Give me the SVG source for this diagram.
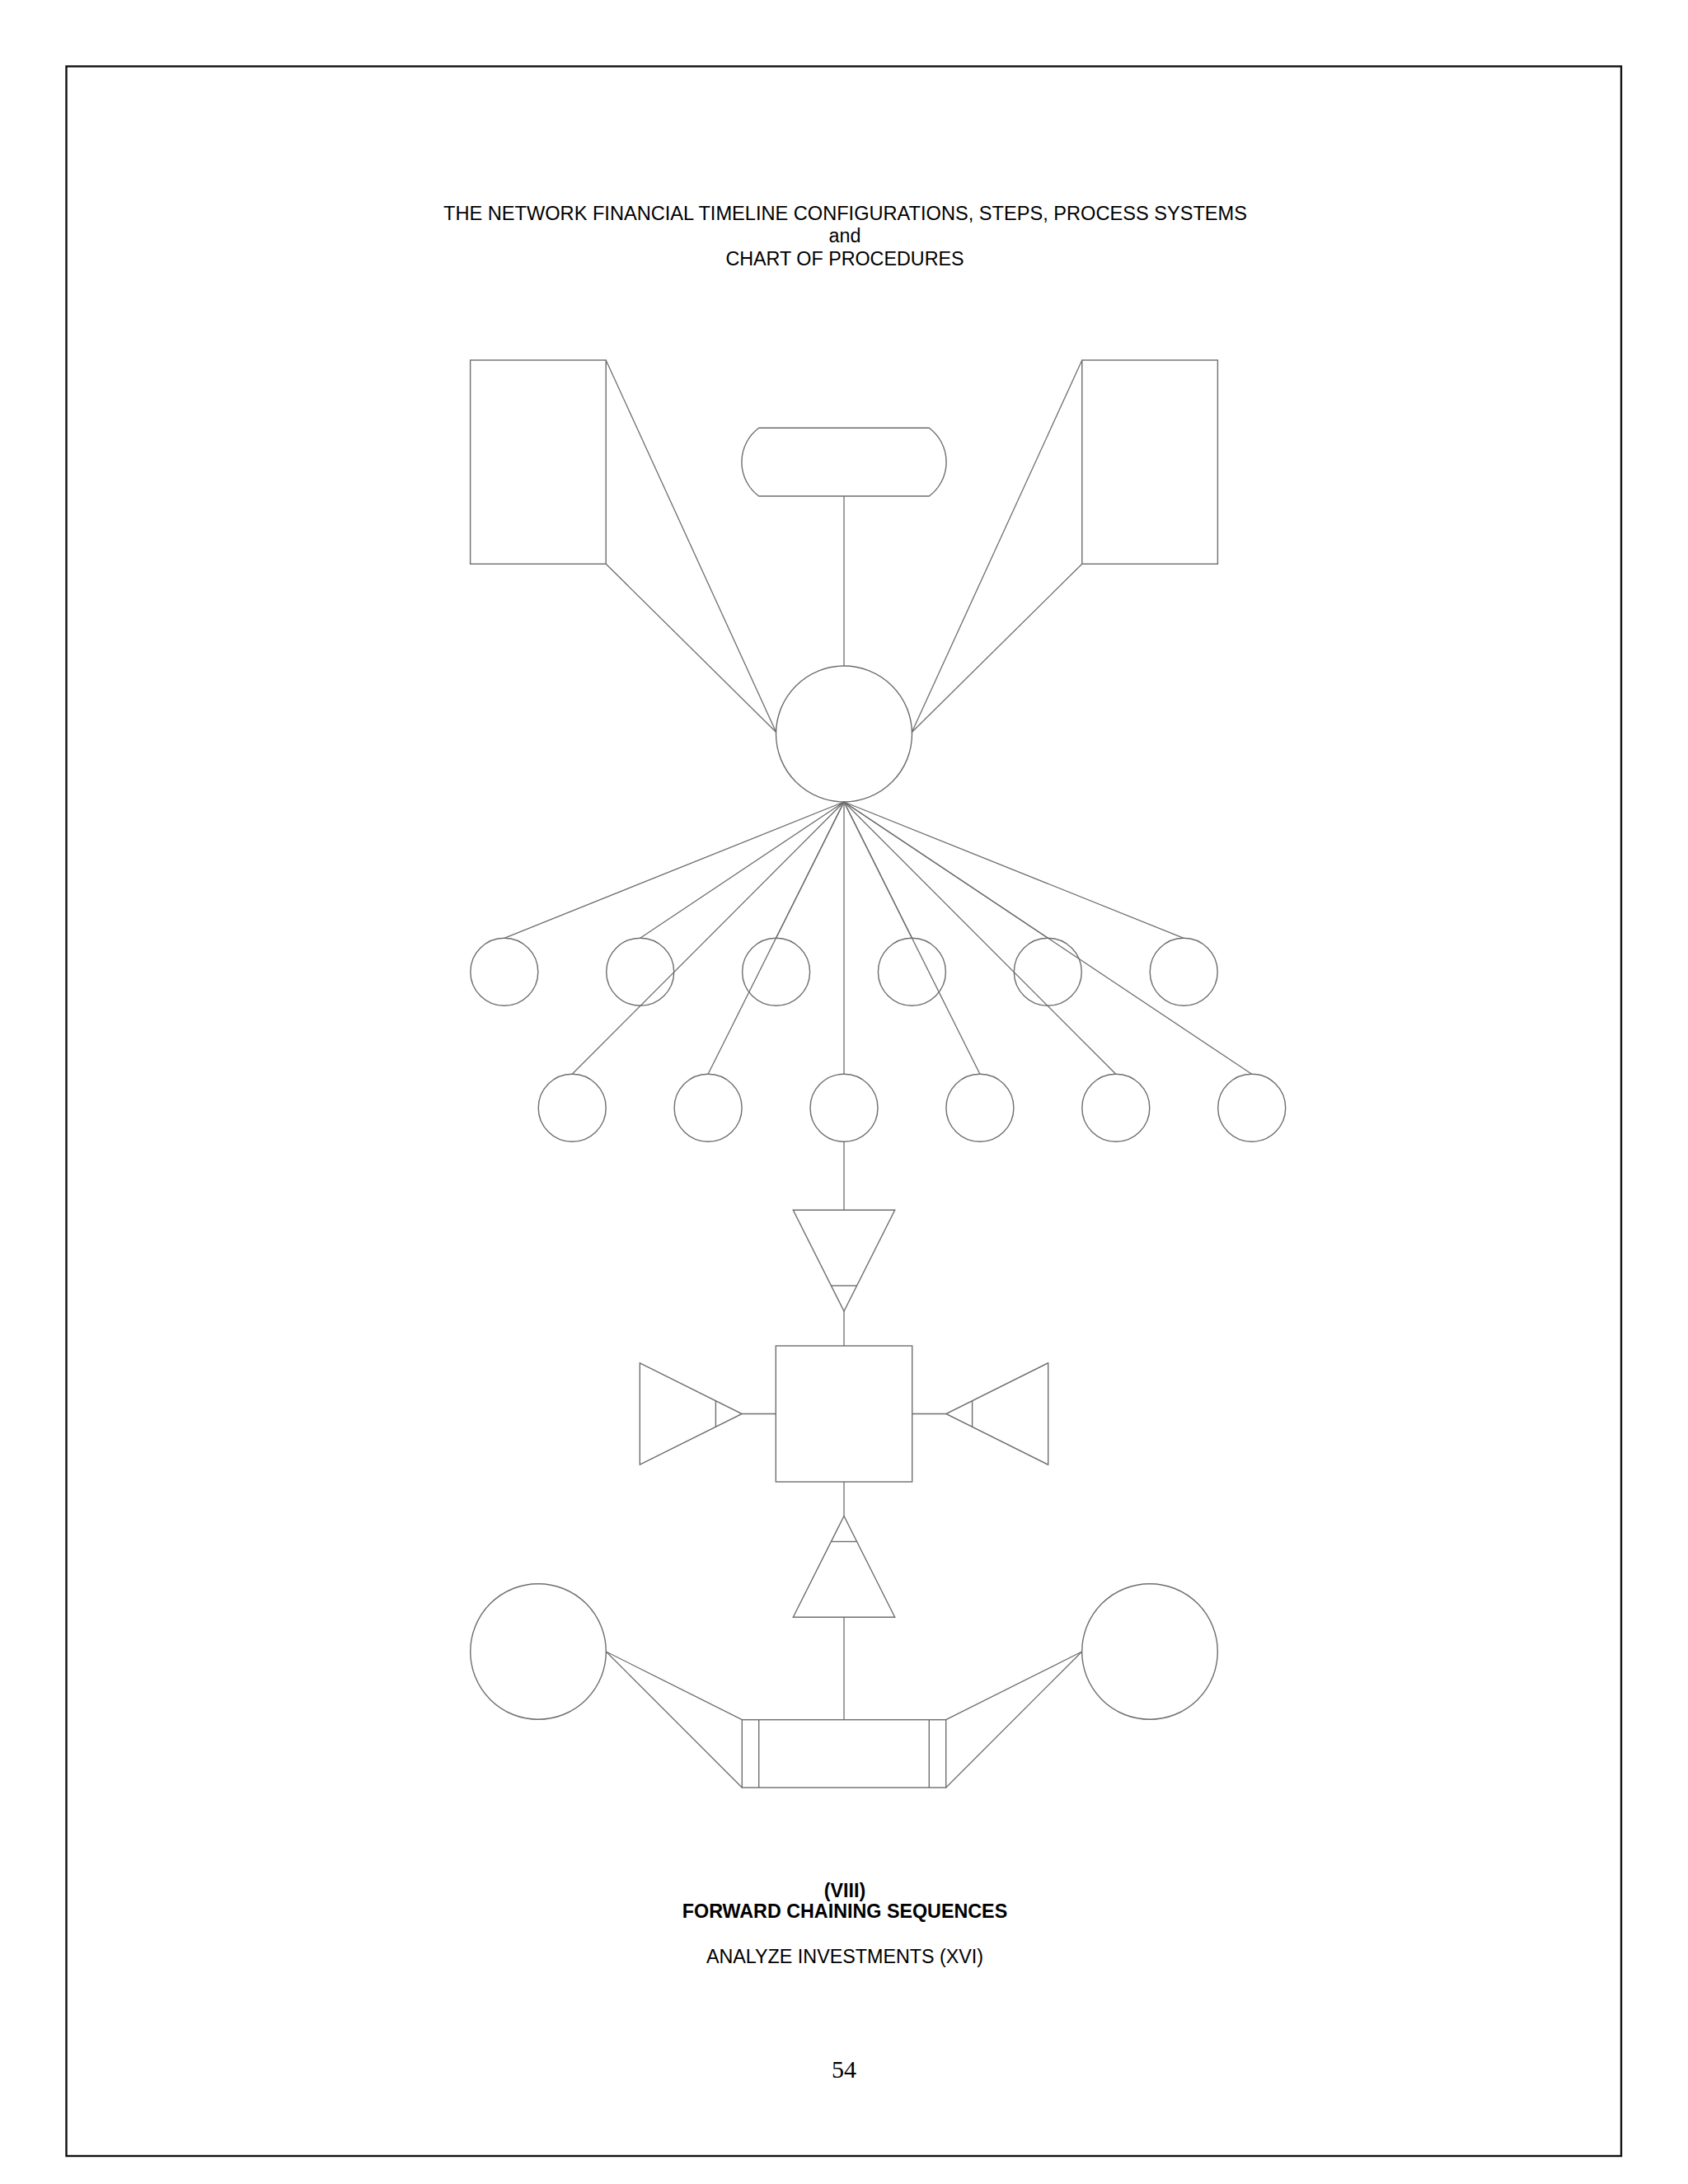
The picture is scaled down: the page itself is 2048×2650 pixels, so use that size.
<svg xmlns="http://www.w3.org/2000/svg" width="2048" height="2650" viewBox="0 0 2048 2650">
<style>
.s{fill:none;stroke:#6e6e6e;stroke-width:1.4}
.c{fill:none;stroke:#6e6e6e;stroke-width:1.3}
.t{font-family:"Liberation Sans",Arial,sans-serif;font-size:23.3px;fill:#000;text-anchor:middle}
.h{font-size:23.6px}
.b{font-weight:bold}
.n{font-family:"Liberation Serif","Times New Roman",serif;font-size:30px;fill:#000;text-anchor:middle}
</style>
<rect x="0" y="0" width="2048" height="2650" fill="#fff"/>
<rect id="page-border" x="80.5" y="80.5" width="1886.5" height="2535.5" fill="none" stroke="#111" stroke-width="2.4"/>
<g id="title">
<text class="t h" x="1025.5" y="266.7">THE NETWORK FINANCIAL TIMELINE CONFIGURATIONS, STEPS, PROCESS SYSTEMS</text>
<text class="t" x="1025" y="294">and</text>
<text class="t" x="1025" y="321.7">CHART OF PROCEDURES</text>
</g>
<g id="connectors">
<line class="c" x1="735.2" y1="437" x2="941.7" y2="888.5"/>
<line class="c" x1="735.2" y1="684.3" x2="941.7" y2="888.5"/>
<line class="c" x1="1312.8" y1="437" x2="1106.3" y2="888.5"/>
<line class="c" x1="1312.8" y1="684.3" x2="1106.3" y2="888.5"/>
<line class="c" x1="1024" y1="602" x2="1024" y2="808"/>
<line class="c" x1="1024" y1="973" x2="611.8" y2="1138.3"/>
<line class="c" x1="1024" y1="973" x2="776.7" y2="1138.3"/>
<line class="c" x1="1024" y1="973" x2="941.6" y2="1138.3"/>
<line class="c" x1="1024" y1="973" x2="1106.4" y2="1138.3"/>
<line class="c" x1="1024" y1="973" x2="1271.3" y2="1138.3"/>
<line class="c" x1="1024" y1="973" x2="1436.2" y2="1138.3"/>
<line class="c" x1="1024" y1="973" x2="694.2" y2="1303.3"/>
<line class="c" x1="1024" y1="973" x2="859.1" y2="1303.3"/>
<line class="c" x1="1024" y1="973" x2="1024" y2="1303.3"/>
<line class="c" x1="1024" y1="973" x2="1188.9" y2="1303.3"/>
<line class="c" x1="1024" y1="973" x2="1353.8" y2="1303.3"/>
<line class="c" x1="1024" y1="973" x2="1518.7" y2="1303.3"/>
<line class="c" x1="1024" y1="1385" x2="1024" y2="1468.3"/>
<line class="c" x1="1024" y1="1591" x2="1024" y2="1633"/>
<line class="c" x1="900.2" y1="1715.5" x2="941.3" y2="1715.5"/>
<line class="c" x1="1106.7" y1="1715.5" x2="1147.8" y2="1715.5"/>
<line class="c" x1="1024" y1="1798" x2="1024" y2="1839.5"/>
<line class="c" x1="1024" y1="1962.2" x2="1024" y2="2086.7"/>
<line class="c" x1="735.3" y1="2004" x2="900.3" y2="2086.7"/>
<line class="c" x1="735.3" y1="2004" x2="900.3" y2="2169"/>
<line class="c" x1="1312.7" y1="2004" x2="1147.7" y2="2086.7"/>
<line class="c" x1="1312.7" y1="2004" x2="1147.7" y2="2169"/>
</g>
<g id="rect-left"><rect class="s" x="570.6" y="437" width="164.6" height="247.3"/></g>
<g id="rect-right"><rect class="s" x="1312.8" y="437" width="164.6" height="247.3"/></g>
<g id="terminator"><path class="s" d="M920.7,519.3 L1127.3,519.3 A51.5,51.5 0 0 1 1127.3,602 L920.7,602 A51.5,51.5 0 0 1 920.7,519.3 Z"/></g>
<g id="hub"><circle class="s" cx="1024" cy="890.5" r="82.5"/></g>
<g id="row1">
<circle id="r1c1" class="s" cx="611.8" cy="1179.2" r="41"/>
<circle id="r1c2" class="s" cx="776.7" cy="1179.2" r="41"/>
<circle id="r1c3" class="s" cx="941.6" cy="1179.2" r="41"/>
<circle id="r1c4" class="s" cx="1106.4" cy="1179.2" r="41"/>
<circle id="r1c5" class="s" cx="1271.3" cy="1179.2" r="41"/>
<circle id="r1c6" class="s" cx="1436.2" cy="1179.2" r="41"/>
</g>
<g id="row2">
<circle id="r2c1" class="s" cx="694.2" cy="1344.2" r="41"/>
<circle id="r2c2" class="s" cx="859.1" cy="1344.2" r="41"/>
<circle id="r2c3" class="s" cx="1024" cy="1344.2" r="41"/>
<circle id="r2c4" class="s" cx="1188.9" cy="1344.2" r="41"/>
<circle id="r2c5" class="s" cx="1353.8" cy="1344.2" r="41"/>
<circle id="r2c6" class="s" cx="1518.7" cy="1344.2" r="41"/>
</g>
<g id="tri-top"><polygon class="s" points="962.3,1468.3 1085.7,1468.3 1024,1591"/><line class="s" x1="1008.5" y1="1560" x2="1039.5" y2="1560"/></g>
<g id="center-box"><rect class="s" x="941.3" y="1633" width="165.4" height="165"/></g>
<g id="tri-left"><polygon class="s" points="776.3,1653.8 776.3,1777.2 900.2,1715.5"/><line class="s" x1="868.4" y1="1699.5" x2="868.4" y2="1731.5"/></g>
<g id="tri-right"><polygon class="s" points="1271.7,1653.8 1271.7,1777.2 1147.8,1715.5"/><line class="s" x1="1179.6" y1="1699.5" x2="1179.6" y2="1731.5"/></g>
<g id="tri-bottom"><polygon class="s" points="1024,1839.5 1085.7,1962.2 962.3,1962.2"/><line class="s" x1="1008.5" y1="1870.5" x2="1039.5" y2="1870.5"/></g>
<g id="circle-left"><circle class="s" cx="653" cy="2004" r="82.3"/></g>
<g id="circle-right"><circle class="s" cx="1395" cy="2004" r="82.3"/></g>
<g id="process-box"><rect class="s" x="900.3" y="2086.7" width="247.4" height="82.3"/><line class="s" x1="920.7" y1="2086.7" x2="920.7" y2="2169"/><line class="s" x1="1127.3" y1="2086.7" x2="1127.3" y2="2169"/></g>
<g id="caption">
<text class="t b" x="1025" y="2301.7">(VIII)</text>
<text class="t b" x="1025" y="2327.3">FORWARD CHAINING SEQUENCES</text>
<text class="t" x="1025" y="2381.7">ANALYZE INVESTMENTS (XVI)</text>
<text class="n" x="1024" y="2521">54</text>
</g>
</svg>
